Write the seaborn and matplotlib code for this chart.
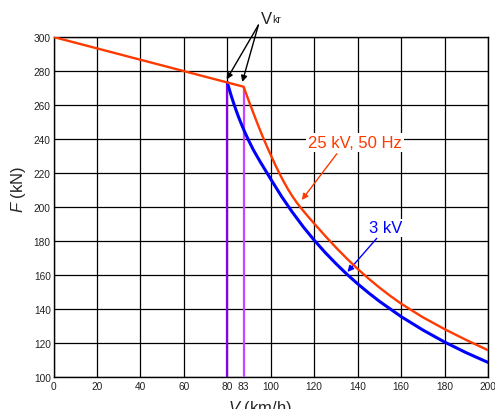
import matplotlib
matplotlib.use("Agg")
import matplotlib.pyplot as plt
from matplotlib.ticker import FixedLocator, FixedFormatter
import seaborn as sns
import pandas as pd

# ---- data ----
v_ac = [0, 87.5, 90, 92, 94, 96, 98, 100, 102, 104, 106, 108, 110, 112, 114, 117, 120,
        125, 130, 135, 140, 145, 150, 155, 160, 170, 180, 190, 200]
f_ac = [300, 270.7, 262.0, 255.2, 248.6, 242.2, 236.2, 230.5, 224.9, 219.6, 214.7, 210.2, 206.1,
        202.4, 199.1, 194.5, 190.1, 182.9, 176.0, 169.5, 163.4, 157.7, 152.4, 147.5, 142.9,
        134.9, 127.9, 121.5, 115.5]

v_dc = [80, 81, 82, 83, 84, 85, 86, 88, 90, 92, 95, 100, 105, 110, 115, 120, 125, 130,
        135, 140, 145, 150, 160, 170, 180, 190, 200]
f_dc = [273.3, 268.8, 264.6, 260.7, 257.0, 253.5, 250.2, 244.1, 238.6, 233.5, 226.8, 216.3,
        206.0, 196.7, 188.1, 180.3, 173.1, 166.5, 160.3, 154.6, 149.3, 144.3, 135.3, 127.4,
        120.3, 114.0, 108.3]

vkr_pos = [80, 87.5]          # positions of the two critical-speed lines on the axis
vkr_top = [273.3, 270.7]      # force at the critical speeds
vkr_labels = ["80", "83"]
vkr_colors = ["#8a00e6", "#cc44ff"]

x_ticks = [0, 20, 40, 60, 80, 100, 120, 140, 160, 180, 200]
x_ticklabels = ["0", "20", "40", "60", "80", "100", "120", "140", "160", "180", "200"]
y_ticks = [100, 120, 140, 160, 180, 200, 220, 240, 260, 280, 300]

label_ac = "25 kV, 50 Hz"
label_dc = "3 kV"
red = "#ff3a00"
blue = "#0000ff"

sns.set_theme(style="white")
plt.rcParams["font.family"] = ["Liberation Sans", "DejaVu Sans"]
plt.rcParams["mathtext.fontset"] = "custom"
plt.rcParams["mathtext.rm"] = "Liberation Sans"
plt.rcParams["mathtext.it"] = "Liberation Sans:italic"

fig = plt.figure(figsize=(4.95, 4.10), dpi=100)
ax = fig.add_axes([53.5 / 495, 1 - 377.5 / 410, 434.5 / 495, 339.5 / 410])

# grid
ax.set_xlim(0, 200)
ax.set_ylim(100, 300)
ax.xaxis.set_major_locator(FixedLocator(x_ticks))
ax.xaxis.set_major_formatter(FixedFormatter(x_ticklabels))
ax.xaxis.set_minor_locator(FixedLocator([vkr_pos[1]]))
ax.xaxis.set_minor_formatter(FixedFormatter([vkr_labels[1]]))
ax.yaxis.set_major_locator(FixedLocator(y_ticks))
ax.grid(True, which="major", color="black", lw=0.9)
ax.set_axisbelow(True)
for s in ax.spines.values():
    s.set_color("black")
    s.set_linewidth(1.0)
ax.tick_params(axis="both", which="both", length=0, labelsize=7.3, colors="#222222", pad=2)
ax.tick_params(axis="x", which="both", pad=3.5)

# critical speed lines
ax.vlines(vkr_pos, [100, 100], vkr_top, colors=vkr_colors, lw=1.6, zorder=3)

# curves
df_ac = pd.DataFrame({"V": v_ac, "F": f_ac})
df_dc = pd.DataFrame({"V": v_dc, "F": f_dc})
sns.lineplot(data=df_dc, x="V", y="F", color=blue, lw=2.2, sort=False, estimator=None, ax=ax, zorder=4)
sns.lineplot(data=df_ac, x="V", y="F", color=red, lw=1.7, sort=False, estimator=None, ax=ax, zorder=5)

ax.set_xlabel("$\\mathit{V}$ (km/h)", fontsize=12)
ax.set_ylabel("$\\mathit{F}$ (kN)", fontsize=12)
ax.xaxis.set_label_coords(0.474, -0.063)
ax.xaxis.label.set_va("top")
ax.yaxis.set_label_coords(-0.058, 0.555)

# annotations
ax.text(95.4, 308.2, "V", fontsize=12, color="#222222", ha="left", va="baseline", clip_on=False)
ax.text(100.6, 308.6, "kr", fontsize=7.5, color="#222222", ha="left", va="baseline", clip_on=False)
arrow_k = dict(arrowstyle="-|>", color="black", lw=1.0, mutation_scale=9, shrinkA=0, shrinkB=0)
ax.annotate("", xy=(79.7, 275.0), xytext=(94.3, 307.0), arrowprops=arrow_k)
ax.annotate("", xy=(86.9, 273.5), xytext=(94.3, 307.0), arrowprops=arrow_k)

ax.text(138.8, 238.1, label_ac, fontsize=12, color=red, ha="center", va="center",
        bbox=dict(facecolor="white", edgecolor="none", pad=1.5), zorder=6)
ax.annotate("", xy=(114.3, 204.0), xytext=(130.4, 231.2),
            arrowprops=dict(arrowstyle="-|>", color=red, lw=1.0, mutation_scale=9, shrinkA=0, shrinkB=0))

ax.text(153.1, 187.5, label_dc, fontsize=12, color=blue, ha="center", va="center",
        bbox=dict(facecolor="white", edgecolor="none", pad=1.0), zorder=6)
ax.annotate("", xy=(135.3, 161.6), xytext=(148.8, 181.4),
            arrowprops=dict(arrowstyle="-|>", color=blue, lw=1.0, mutation_scale=9, shrinkA=0, shrinkB=0))

fig.savefig("out.png", dpi=100)
